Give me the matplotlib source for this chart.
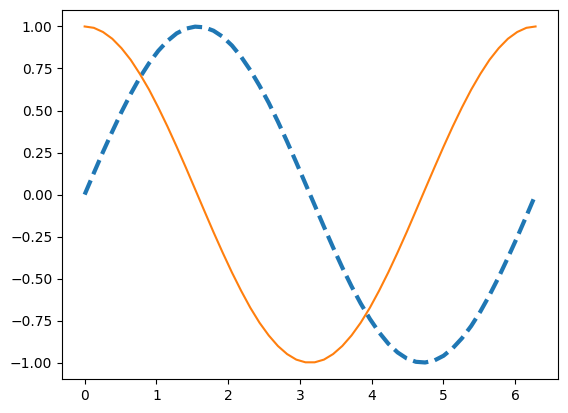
import matplotlib
matplotlib.use('Agg')
import matplotlib.pyplot as plt

# values
x = [0.0, 0.128, 0.256, 0.385, 0.513, 0.641, 0.769, 0.898, 1.026, 1.154,
     1.282, 1.411, 1.539, 1.667, 1.795, 1.923, 2.052, 2.180, 2.308, 2.436,
     2.565, 2.693, 2.821, 2.949, 3.077, 3.206, 3.334, 3.462, 3.590, 3.719,
     3.847, 3.975, 4.103, 4.231, 4.360, 4.488, 4.616, 4.744, 4.873, 5.001,
     5.129, 5.257, 5.386, 5.514, 5.642, 5.770, 5.898, 6.027, 6.155, 6.283]

dashed_y = [0.000, 0.128, 0.254, 0.375, 0.491, 0.598, 0.696, 0.782, 0.855, 0.914,
            0.959, 0.987, 0.999, 0.995, 0.975, 0.939, 0.887, 0.820, 0.740, 0.648,
            0.546, 0.434, 0.315, 0.191, 0.064, -0.064, -0.191, -0.315, -0.434, -0.546,
            -0.648, -0.740, -0.820, -0.887, -0.939, -0.975, -0.995, -0.999, -0.987, -0.959,
            -0.914, -0.855, -0.782, -0.696, -0.598, -0.491, -0.375, -0.254, -0.128, 0.000]

solid_y = [1.000, 0.992, 0.967, 0.927, 0.871, 0.802, 0.718, 0.624, 0.518, 0.405,
           0.285, 0.160, 0.032, -0.096, -0.223, -0.345, -0.463, -0.572, -0.673, -0.762,
           -0.838, -0.901, -0.949, -0.982, -0.998, -0.998, -0.982, -0.949, -0.901, -0.838,
           -0.762, -0.673, -0.572, -0.463, -0.345, -0.223, -0.096, 0.032, 0.160, 0.285,
           0.405, 0.518, 0.624, 0.718, 0.802, 0.871, 0.927, 0.967, 0.992, 1.000]

fig, ax = plt.subplots(figsize=(6.4, 4.8), dpi=100)
ax.plot(x, dashed_y, '--', linewidth=3)
ax.plot(x, solid_y)

plt.savefig('out.png', dpi=100, bbox_inches='tight')
